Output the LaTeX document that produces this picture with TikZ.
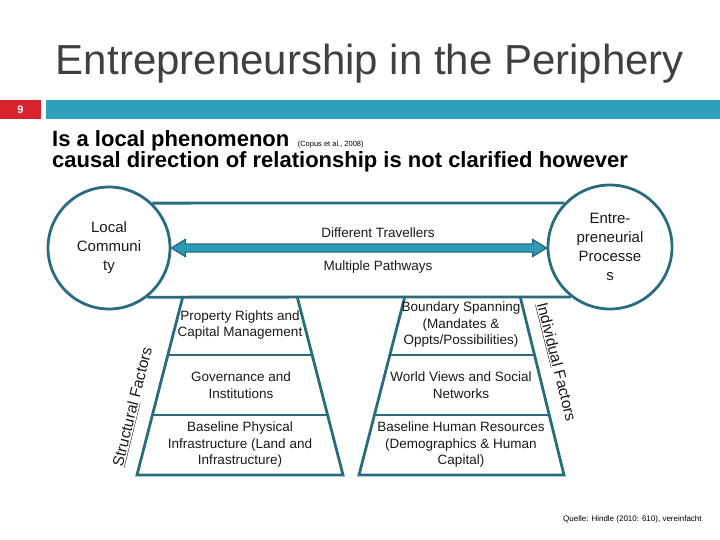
\documentclass[tikz,border=0pt]{standalone}
\usepackage{fontspec}
\setmainfont{Liberation Sans}
\usetikzlibrary{calc}

\definecolor{tealline}{RGB}{41,108,125}
\definecolor{tealfill}{RGB}{46,155,185}
\definecolor{barblue}{RGB}{45,160,190}
\definecolor{slidered}{RGB}{214,35,45}
\definecolor{titlegray}{RGB}{64,64,64}
\definecolor{txt}{RGB}{25,25,25}

\begin{document}
\begin{tikzpicture}[x=1pt,y=-1pt,
  tealln/.style={draw=tealline,line width=2.8pt},
  endcircle/.style={circle,draw=tealline,line width=2.8pt,minimum size=#1,inner sep=0pt,
    align=center,text=txt,font=\fontsize{15}{19}\selectfont},
  bigarrow/.style={draw=tealline,fill=tealfill,line width=1.4pt,line join=miter},
  midlabel/.style={text=txt,font=\fontsize{13.5}{16.5}\selectfont},
  layertext/.style={align=center,text=txt,font=\fontsize{13.5}{16.5}\selectfont,inner sep=0pt},
  sidelabel/.style={text=txt,font=\fontsize{15.5}{18}\selectfont,inner sep=0pt}]
\useasboundingbox (0,0) rectangle (720,540);

% title and slide bar
\node[anchor=base,font=\fontsize{42}{48}\selectfont,text=titlegray] (title) at (370,75) {Entrepreneurship in the Periphery};
\fill[slidered] (0,100) rectangle (41,119);
\node[font=\fontsize{11}{13}\selectfont\bfseries,white] (num) at (20.5,109.5) {9};
\fill[barblue] (46,100) rectangle (720,119);

% heading
\node[anchor=base west,font=\fontsize{22}{24}\selectfont\bfseries,inner sep=0pt] (head1) at (52,146.5) {Is a local phenomenon};
\node[anchor=base west,font=\fontsize{7.5}{9}\selectfont,inner sep=0pt] (cite) at ([xshift=8pt]head1.base east) {(Copus et al., 2008)};
\node[anchor=base west,font=\fontsize{22}{24}\selectfont\bfseries,inner sep=0pt] (head2) at (52,168) {causal direction of relationship is not clarified however};

% the two ends
\node[endcircle=122pt] (lc) at (109,248) {Local\\Communi\\ty};
\node[endcircle=124pt] (ep) at (610,247) {Entre-\\preneurial\\Processe\\s};
\draw[tealln] (lc.46) -- (ep.136);
\draw[tealln] (lc.-52) -- (ep.232);

% double arrow
\coordinate (aL) at (lc.east);
\coordinate (aR) at (ep.west |- lc.east);
\draw[bigarrow] (aL) -- ++(14,-8.5) -- ++(0,4.5) -- ($(aR)+(-14,-4)$) -- ++(0,-4.5) -- (aR)
  -- ++(-14,8.5) -- ++(0,-4.5) -- ($(aL)+(14,4)$) -- ++(0,4.5) -- cycle;
\node[midlabel] (dt) at (378,233) {Different Travellers};
\node[midlabel] (mp) at (378,267) {Multiple Pathways};

% structural factors
\coordinate (sTL) at (183,296);
\coordinate (sTR) at (297,296);
\coordinate (sBR) at (343,475);
\coordinate (sBL) at (137,475);
\draw[tealln] (sTL) -- (sBL) -- (sBR) -- (sTR);
\foreach \f in {0.33,0.665}
  \draw[tealln] ($(sTL)!\f!(sBL)$) -- ($(sTR)!\f!(sBR)$);
\node[layertext] (prop) at (240,325) {Property Rights and\\Capital Management};
\node[layertext] (gov) at (241,385) {Governance and\\Institutions};
\node[layertext] (phys) at (240,445) {Baseline Physical\\Infrastructure (Land and\\Infrastructure)};
\node[sidelabel,rotate=76] (sf) at (133,407) {\underline{Structural} Factors};

% individual factors
\coordinate (iTL) at (405,296);
\coordinate (iTR) at (520,296);
\coordinate (iBR) at (564,475);
\coordinate (iBL) at (359,475);
\draw[tealln] (iTL) -- (iBL) -- (iBR) -- (iTR);
\foreach \f in {0.33,0.665}
  \draw[tealln] ($(iTL)!\f!(iBL)$) -- ($(iTR)!\f!(iBR)$);
\node[layertext] (bound) at (461,325) {Boundary Spanning\\(Mandates \&\\Oppts/Possibilities)};
\node[layertext] (world) at (461,385) {World Views and Social\\Networks};
\node[layertext] (human) at (461,445) {Baseline Human Resources\\(Demographics \& Human\\Capital)};
\node[sidelabel,rotate=-76] (indf) at (556,362) {\underline{Individual} Factors};

% source
\node[anchor=base west,font=\fontsize{8}{10}\selectfont,inner sep=0pt] (src) at (563,521) {Quelle: Hindle (2010: 610), vereinfacht};
\end{tikzpicture}
\end{document}
